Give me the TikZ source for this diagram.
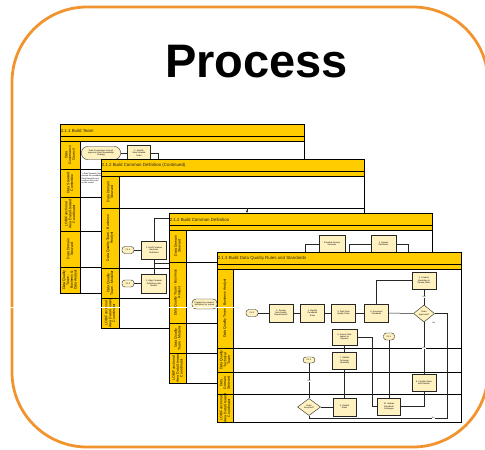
\documentclass[tikz,border=0pt]{standalone}
\usepackage{fontspec}
\setmainfont{Liberation Sans}
\usetikzlibrary{shapes.geometric,shadows,arrows.meta}
\definecolor{frameorange}{RGB}{242,148,46}
\definecolor{laneyellow}{RGB}{255,204,0}
\definecolor{taskfill}{RGB}{255,241,192}
\tikzset{
  hdr/.style={fill=laneyellow,draw=black,line width=0.6pt},
  hdrtxt/.style={font=\fontsize{4.4}{5}\selectfont,text=black!85,inner sep=0.6pt,anchor=west},
  lanecell/.style={fill=laneyellow,draw=black,line width=0.6pt},
  laneline/.style={draw=black,line width=0.7pt},
  lanetxt/.style={rotate=90,font=\fontsize{3.5}{3.8}\selectfont,align=center,inner sep=0pt,text=black},
  task/.style={draw=black!85,fill=taskfill,line width=0.4pt,inner sep=0.4pt,align=center,
    font=\fontsize{2.1}{2.4}\selectfont,minimum width=24pt,minimum height=18pt,
    drop shadow={shadow xshift=0.9pt,shadow yshift=-0.9pt,fill=black!60,opacity=0.8}},
  term/.style={draw=black!85,fill=taskfill,line width=0.4pt,rounded corners=3pt,inner sep=0.4pt,
    font=\fontsize{2.1}{2.4}\selectfont,align=center,minimum width=12pt,minimum height=7pt},
  dec/.style={diamond,draw=black!85,fill=taskfill,line width=0.4pt,inner sep=0pt,
    font=\fontsize{2.1}{2.4}\selectfont,align=center,minimum width=21pt,minimum height=17pt},
  flow/.style={draw=black!85,line width=0.5pt},
  flowlbl/.style={font=\fontsize{2}{2.2}\selectfont,fill=white,inner sep=0.3pt},
}
\begin{document}
\begin{tikzpicture}[x=1pt,y=-1pt]
    \useasboundingbox (0,0) rectangle (485,450);
    % page: name, left, top, right, bottom, title
    \newcommand{\swpage}[6]{
      \fill[black!45] (#2+1.3,#3+1.3) rectangle (#4+1.3,#5+1.3);
      \filldraw[fill=white,draw=black,line width=0.7pt] (#2,#3) rectangle (#4,#5);
      \filldraw[hdr] (#2,#3) rectangle (#4,#3+12.5);
      \filldraw[hdr] (#2,#3+12.5) rectangle (#4,#3+17);
      \node[hdrtxt] (#1title) at (#2,#3+6.5) {#6};
    }
    % lane: name, left, column right, page right, top, bottom, label
    \newcommand{\swlane}[7]{
      \filldraw[lanecell] (#2,#5) rectangle (#3,#6);
      \draw[laneline] (#3,#6) -- (#4,#6);
      \node[lanetxt] (#1) at ({(#2+#3)/2},{(#5+#6)/2}) {#7};
    }
    \draw[draw=frameorange,line width=2.8pt,rounded corners=75pt] (12,7) rectangle (488,447);
    \node[font=\bfseries\fontsize{47}{50}\selectfont,anchor=base,inner sep=0pt] (title) at (256.5,77) {Process};

    % 2.1.1
    \swpage{p1}{60}{124}{304}{293}{2.1.1 Build Team}
    \swlane{p1l1}{60}{80}{304}{141}{169}{Data\\Governance\\Council}
    \swlane{p1l2}{60}{80}{304}{169}{197}{Data Steward\\Committee}
    \swlane{p1l3}{60}{80}{304}{197}{231}{LOB/Functional\\Area Data Steward\\Coordinator}
    \swlane{p1l4}{60}{80}{304}{231}{267}{Data Domain\\Steward}
    \swlane{p1l5}{60}{80}{304}{267}{293}{Data Quality\\Team -\\Business \&\\Data Analyst}
    \node[term,rounded corners=6pt,minimum width=39pt,minimum height=13pt] (p1start) at (101,153) {Data Governance Council\\approves Data Stewardship\\Strategy};
    \node[task,minimum width=23pt,minimum height=15pt] (p1build) at (139,153) {1. Identify\\Data Steward\\Roles};
    \coordinate (p1out) at (158,170);
    \draw[flow] (p1start) -- (p1build);
    \draw[flow] (p1build.east) -| (p1out);
    \node[font=\fontsize{2}{2.3}\selectfont,align=left,anchor=north west,inner sep=0pt] (p1note) at (81.5,173) {Y. Data Steward Committee\\ reviews the candidate\\ Data Stewards and\\ confirms their roles\\ on the council};

    % 2.1.2 (continued)
    \swpage{p2}{101}{159}{364}{328}{2.1.2 Build Common Definition (Continued)}
    \swlane{p2l1}{101}{119}{364}{176}{208}{Data Domain\\Steward}
    \swlane{p2l2}{101}{119}{364}{208}{268}{Data Quality Team - Business\\Analyst}
    \swlane{p2l3}{101}{119}{364}{268}{298}{Data Quality\\Team - Modeler}
    \swlane{p2l4}{101}{119}{364}{298}{328}{LOB/Functional\\Area Data Steward\\Coordinator}
    \node[term] (p2ref1) at (128,250) {2.1.1};
    \node[task,minimum width=25pt] (p2define) at (154,250) {1. Draft Common\\Business\\Definitions};
    \node[term] (p2ref2) at (128,283.5) {2.1.2};
    \node[task,minimum width=25pt,minimum height=19pt] (p2model) at (154,283.5) {2. Align Common\\Definitions with\\Models};
    \coordinate (p2up) at (172,218);
    \coordinate (p2right) at (172,263);
    \coordinate (p2drop) at (247,208);
    \coordinate (p2drop2) at (247,213);
    \draw[flow] (p2ref1) -- (p2define);
    \draw[flow] (p2ref2) -- (p2model);
    \draw[flow] (p2define.north) |- (p2up);
    \draw[flow] (p2define) -- (p2model);
    \draw[flow] (p2define.south |- p2right) -- (p2right);
    \draw[flow,-{Latex[length=2.5pt,width=2.5pt]}] (p2drop) -- (p2drop2);

    % 2.1.2
    \swpage{p3}{169}{213}{432}{383}{2.1.2 Build Common Definition}
    \swlane{p3l1}{169}{186}{432}{230}{262}{Data Domain\\Steward}
    \swlane{p3l2}{169}{186}{432}{262}{323}{Data Quality Team - Business\\Analyst}
    \swlane{p3l3}{169}{186}{432}{323}{353}{Data Quality\\Team - Modeler}
    \swlane{p3l4}{169}{186}{432}{353}{383}{LOB/Functional\\Area Data Steward\\Coordinator}
    \node[task,minimum width=26pt] (p3select) at (332,244) {Schedule Review\\Sessions};
    \node[task,minimum width=25pt] (p3review) at (383.5,244) {3. Review\\Definitions};
    \coordinate (p3in) at (305,256);
    \coordinate (p3mid) at (349,256);
    \coordinate (p3out) at (408,256);
    \draw[flow] (p3select.west) -| (p3in);
    \draw[flow] (p3review.west) -| (p3mid);
    \draw[flow] (p3review.east) -| (p3out);
    \node[term,minimum width=25pt,minimum height=10pt,rounded corners=4pt] (p3ref) at (204.5,304) {Prepare the common\\definitions for review};
    \coordinate (p3next) at (225,304);
    \draw[flow] (p3ref) -- (p3next);

    % 2.1.3
    \swpage{p4}{217}{252}{461}{422}{2.1.3 Build Data Quality Rules and Standards}
    \swlane{p4l1}{217}{233}{461}{269}{348}{Data Quality Team - Business Analyst}
    \swlane{p4l2}{217}{233}{461}{348}{372}{Data Quality\\Technical\\Team}
    \swlane{p4l3}{217}{233}{461}{372}{394}{Data\\Domain\\Steward}
    \swlane{p4l4}{217}{233}{461}{394}{422}{LOB/Functional\\Area Data Steward\\Coordinator}
    \node[term] (p4ref1) at (252,313) {2.1.2};
    \node[task] (p4review) at (281,313) {1. Review\\Data Quality\\Requirements};
    \node[task] (p4identify) at (312.5,313) {2. Identify\\Candidate\\Rules};
    \node[task] (p4draft) at (343.5,313) {3. Draft Data\\Quality Rules};
    \node[task] (p4document) at (376.5,313) {4. Document\\Standards};
    \node[task,minimum height=17pt] (p4workshop) at (424,280.5) {5. Conduct\\Workshop to\\Review Rules};
    \node[dec] (p4approved) at (424,313.5) {Rules\\Approved?};
    \node[task,minimum width=25pt,minimum height=16pt] (p4assess) at (344.5,337) {6. Assess Rule\\Impact on\\Systems};
    \node[term,minimum width=11pt] (p4ref2) at (389,336.5) {2.1.1};
    \node[term,minimum height=6pt] (p4ref3) at (309,360) {2.1.2};
    \node[task,minimum height=17pt] (p4validate) at (344.5,360.5) {7. Validate\\Technical\\Feasibility};
    \node[task,minimum height=17pt] (p4confirm) at (424,382.5) {8. Confirm Rules\\with Domain};
    \node[dec,minimum width=23pt] (p4accepted) at (309,407) {Rules\\Accepted?};
    \node[task,minimum width=23pt] (p4publish) at (344.5,407) {9. Publish\\Rules};
    \node[task,minimum width=23pt,minimum height=17pt] (p4update) at (389,406.5) {10. Update\\Standards\\Catalogue};
    \coordinate (p4fork) at (372,337);
    \coordinate (p4loop) at (447,418);
    \draw[flow] (p4ref1) -- (p4review);
    \draw[flow] (p4review) -- (p4identify);
    \draw[flow] (p4identify) -- (p4draft);
    \draw[flow] (p4draft) -- (p4document);
    \draw[flow] (p4document) -- (p4approved);
    \draw[flow] (p4document.north) |- (p4workshop.west);
    \draw[flow] (p4workshop) -- node[flowlbl] (p4yes1) {Yes} (p4approved);
    \draw[flow] (p4approved) -- node[flowlbl] (p4yes2) {Yes} (p4confirm);
    \node[flowlbl] (p4no1) at (434,322.5) {No};
    \draw[flow] (p4approved.east) -| (p4loop) -- node[flowlbl,pos=0.1] (p4no2) {No} (p4accepted.south |- p4loop) -- (p4accepted.south);
    \draw[flow] (p4confirm.south) |- (p4update.east);
    \draw[flow] (p4assess.east) -- (p4fork) |- (p4update.west);
    \draw[flow] (p4assess) -- (p4validate);
    \draw[flow] (p4validate) -- (p4publish);
    \draw[flow] (p4ref2) -- (p4update);
    \draw[flow] (p4ref3) -- node[flowlbl] (p4yes3) {Yes} (p4accepted);
    \draw[flow] (p4accepted) -- (p4publish);

    %\draw[dashed] (0,0) rectangle (485,450);
    \draw[white,line width=0.6pt] (10,307) -- (246,307);
\end{tikzpicture}
\end{document}
